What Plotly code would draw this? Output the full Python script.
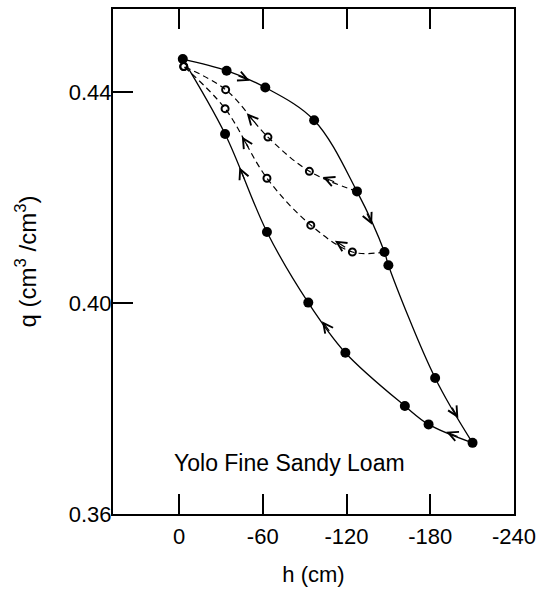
import math
import plotly.graph_objects as go

# ---- data (h in cm, q in cm3/cm3) ----
drying_h = [-2.7, -34.1, -61.8, -96.8, -127.5, -147.2, -150.0, -183.5, -210.3]
drying_q = [0.4463, 0.4441, 0.4409, 0.4347, 0.4212, 0.4097, 0.4072, 0.3858, 0.3735]

wetting_h = [-178.8, -161.8, -119.2, -92.6, -63.0, -33.0]
wetting_q = [0.3770, 0.3805, 0.3906, 0.4001, 0.4135, 0.4321]

scan_upper_h = [-93.4, -63.7, -33.4, -3.4]
scan_upper_q = [0.4250, 0.4315, 0.4405, 0.4449]
scan_upper_from = 4   # index of drying point where the scanning curve starts

scan_lower_h = [-124.2, -94.4, -63.0, -33.0, -3.4]
scan_lower_q = [0.4097, 0.4148, 0.4237, 0.4369, 0.4449]
scan_lower_from = 5

x_ticks = [0, -60, -120, -180, -240]
x_tick_labels = ["0", "-60", "-120", "-180", "-240"]
y_ticks = [0.36, 0.40, 0.44]
y_tick_labels = ["0.36", "0.40", "0.44"]

label_text = "Yolo Fine Sandy Loam"
label_h, label_q = -79.3, 0.3696

# ---- build full paths ----
dry_path_h, dry_path_q = drying_h, drying_q
wet_path_h = [drying_h[-1]] + wetting_h + [drying_h[0]]
wet_path_q = [drying_q[-1]] + wetting_q + [drying_q[0]]
up_path_h = [drying_h[scan_upper_from]] + scan_upper_h
up_path_q = [drying_q[scan_upper_from]] + scan_upper_q
lo_path_h = [drying_h[scan_lower_from]] + scan_lower_h
lo_path_q = [drying_q[scan_lower_from]] + scan_lower_q

FONT = "Liberation Sans, Arial, Helvetica, sans-serif"

# figure geometry
W, H = 543, 596
ML, MR, MT, MB = 113, 24, 7, 82
X_RANGE = [47.3, -240]
Y_RANGE = [0.36, 0.4558]
SX = (W - ML - MR) / (X_RANGE[1] - X_RANGE[0])   # px per cm (signed)
SY = -(H - MT - MB) / (Y_RANGE[1] - Y_RANGE[0])  # px per unit q (signed, screen down)

fig = go.Figure()

solid = dict(color="black", width=1.3, shape="spline", smoothing=1.0)
dashed = dict(color="black", width=1.2, dash="6px,4px", shape="spline", smoothing=1.0)

fig.add_trace(go.Scatter(x=dry_path_h, y=dry_path_q, mode="lines", line=solid, hoverinfo="skip"))
fig.add_trace(go.Scatter(x=wet_path_h, y=wet_path_q, mode="lines", line=solid, hoverinfo="skip"))
fig.add_trace(go.Scatter(x=up_path_h, y=up_path_q, mode="lines", line=dashed, hoverinfo="skip"))
fig.add_trace(go.Scatter(x=lo_path_h, y=lo_path_q, mode="lines", line=dashed, hoverinfo="skip"))

# filled markers
fig.add_trace(go.Scatter(x=drying_h + wetting_h, y=drying_q + wetting_q, mode="markers",
                         marker=dict(symbol="circle", size=10, color="black"), hoverinfo="skip"))
# open markers
fig.add_trace(go.Scatter(x=scan_upper_h + scan_lower_h, y=scan_upper_q + scan_lower_q, mode="markers",
                         marker=dict(symbol="circle-open", size=7, color="black", line=dict(width=2)),
                         hoverinfo="skip"))

# ---- direction arrows placed along the data paths ----
def arrow(hs, qs, seg, frac, length=14):
    h0, q0, h1, q1 = hs[seg], qs[seg], hs[seg + 1], qs[seg + 1]
    th, tq = h0 + (h1 - h0) * frac, q0 + (q1 - q0) * frac
    dx, dy = (h1 - h0) * SX, (q1 - q0) * SY
    n = math.hypot(dx, dy)
    return dict(x=th, y=tq, ax=-dx / n * length, ay=-dy / n * length, xref="x", yref="y",
                text="", showarrow=True, arrowhead=5, arrowsize=1.6, arrowwidth=1.2,
                arrowcolor="black", standoff=0, startstandoff=0)

anns = [
    arrow(dry_path_h, dry_path_q, 1, 0.60),
    arrow(dry_path_h, dry_path_q, 4, 0.55),
    arrow(dry_path_h, dry_path_q, 7, 0.62),
    arrow(wet_path_h, wet_path_q, 0, 0.60),
    arrow(wet_path_h, wet_path_q, 3, 0.63),
    arrow(wet_path_h, wet_path_q, 5, 0.66),
    arrow(up_path_h, up_path_q, 0, 0.72),
    arrow(up_path_h, up_path_q, 2, 0.50),
    arrow(lo_path_h, lo_path_q, 1, 0.42),
    arrow(lo_path_h, lo_path_q, 3, 0.60),
]
anns.append(dict(x=label_h, y=label_q, xref="x", yref="y", text=label_text, showarrow=False,
                 xanchor="center", yanchor="middle", font=dict(family=FONT, size=23, color="black")))

fig.update_layout(
    width=W, height=H,
    margin=dict(l=ML, r=MR, t=MT, b=MB),
    plot_bgcolor="white", paper_bgcolor="white",
    showlegend=False,
    font=dict(family=FONT, size=22, color="black"),
    annotations=anns,
)
fig.update_xaxes(
    range=X_RANGE, tickvals=x_ticks, ticktext=x_tick_labels,
    ticks="inside", ticklen=20, tickwidth=1.5, tickcolor="black",
    showline=True, linewidth=2, linecolor="black", mirror="ticks",
    showgrid=False, zeroline=False, ticklabelstandoff=2,
    tickfont=dict(family=FONT, size=22),
    title=dict(text="h (cm)", standoff=18, font=dict(family=FONT, size=22)),
)
fig.update_yaxes(
    range=Y_RANGE, tickvals=y_ticks, ticktext=y_tick_labels,
    ticks="inside", ticklen=20, tickwidth=1.5, tickcolor="black",
    showline=True, linewidth=2, linecolor="black", mirror=True,
    showgrid=False, zeroline=False, ticklabelstandoff=-5,
    tickfont=dict(family=FONT, size=22),
    title=dict(text="q (cm<sup>3</sup> /cm<sup>3</sup>)", standoff=25, font=dict(family=FONT, size=24)),
)

fig.write_html("out.html",
               config={"displayModeBar": False},
               post_script="document.body.style.margin='0';document.body.style.overflow='hidden';")
